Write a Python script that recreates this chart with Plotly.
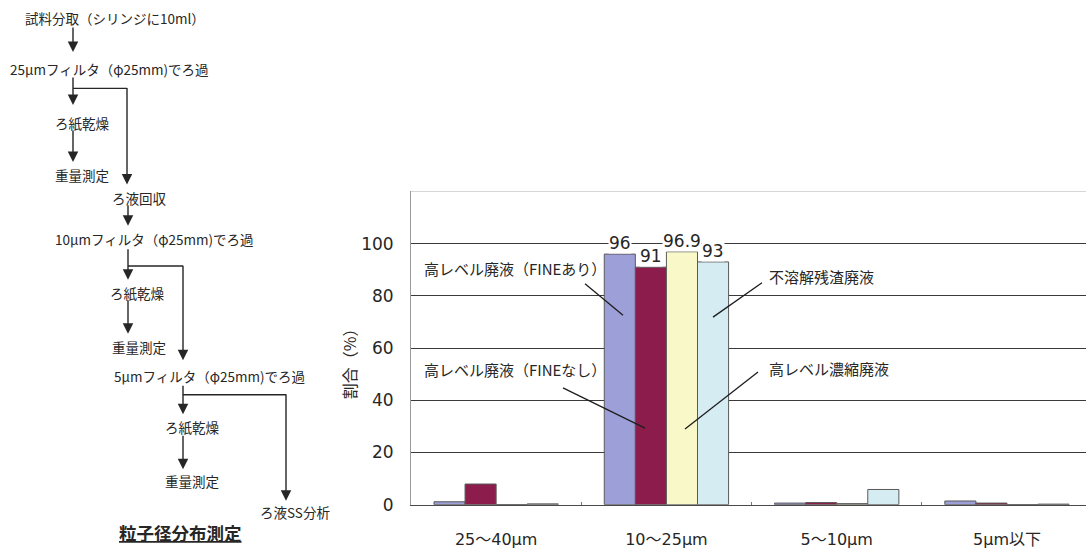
import plotly.graph_objects as go

# ---- chart data -------------------------------------------------------
categories = ["25〜40μm", "10〜25μm", "5〜10μm", "5μm以下"]
series_names = ["高レベル廃液（FINEあり）", "高レベル廃液（FINEなし）",
                "高レベル濃縮廃液", "不溶解残渣廃液"]
hlw_fine_on = [1.1, 96, 0.6, 1.4]
hlw_fine_off = [7.9, 91, 0.8, 0.6]
hlw_concentrate = [0.0, 96.9, 0.4, 0.0]
insoluble_residue = [0.3, 93, 5.8, 0.2]
labelled_category = 1          # values printed above the bars of this group
y_ticks = [0, 20, 40, 60, 80, 100]

# ---- flow chart text ---------------------------------------------------
flow_steps = ["試料分取（シリンジに10ml）", "25μmフィルタ（φ25mm)でろ過", "ろ紙乾燥", "重量測定",
              "ろ液回収", "10μmフィルタ（φ25mm)でろ過", "ろ紙乾燥", "重量測定",
              "5μmフィルタ（φ25mm)でろ過", "ろ紙乾燥", "重量測定", "ろ液SS分析"]
flow_title = "粒子径分布測定"

W, H = 1086, 549
CJK = "Noto Sans CJK JP"
NUM = "DejaVu Sans, Noto Sans CJK JP"
INK = "#262626"


def px(x):
    return x / W


def py(y):
    return 1 - y / H


series = [hlw_fine_on, hlw_fine_off, hlw_concentrate, insoluble_residue]
colors = ["#9d9fd8", "#8c1c4b", "#f8f8c9", "#d6ecf3"]
bargap = 0.27

fig = go.Figure()
for name, vals, col in zip(series_names, series, colors):
    fig.add_trace(go.Bar(x=categories, y=vals, name=name, marker_color=col,
                         marker_line_color="#5a5a5a", marker_line_width=1))

# value labels above the labelled group
bar_w = (1 - bargap) / len(series)
annotations = []
for i, vals in enumerate(series):
    v = vals[labelled_category]
    off = (i - (len(series) - 1) / 2) * bar_w
    txt = f"{v:g}"
    annotations.append(dict(x=labelled_category + off, y=v, xref="x", yref="y",
                            text=txt, showarrow=False, yanchor="bottom", yshift=0,
                            bgcolor="white", borderpad=0,
                            font=dict(family=NUM, size=17, color=INK)))

# callout labels for the series
callouts = [
    (series_names[0], 422, 273, (585, 289), (623, 321)),
    (series_names[1], 422, 376, (563, 395), (645, 436)),
    (series_names[3], 767, 282, (762, 288), (713, 323)),
    (series_names[2], 767, 375, (758, 379), (685, 437)),
]
shapes = []
for text, tx, ty, p0, p1 in callouts:
    annotations.append(dict(x=px(tx), y=py(ty), xref="paper", yref="paper", text=text,
                            showarrow=False, xanchor="left", yanchor="middle",
                            font=dict(family=CJK, size=15, color=INK)))
    shapes.append(dict(type="line", xref="paper", yref="paper",
                       x0=px(p0[0]), y0=py(p0[1]), x1=px(p1[0]), y1=py(p1[1]),
                       line=dict(color="#1e1e1e", width=1.3)))

# y axis title
annotations.append(dict(x=px(349), y=py(367), xref="paper", yref="paper", text="割合（%）",
                        textangle=-90, showarrow=False, xanchor="center", yanchor="middle",
                        font=dict(family=CJK, size=16, color=INK)))

# top frame of the plot area
shapes.append(dict(type="line", xref="paper", yref="y", x0=px(411), x1=1, y0=120, y1=120,
                   line=dict(color="#a8a8a8", width=1)))

# ---- flow chart --------------------------------------------------------
step_pos = [(23, 18), (8, 70), (53, 125), (53, 178), (110, 202), (53, 243),
            (108, 298), (110, 353), (112, 383), (163, 435), (163, 490), (258, 522)]
for text, (x, y) in zip(flow_steps, step_pos):
    annotations.append(dict(x=px(x), y=py(y), xref="paper", yref="paper", text=text,
                            showarrow=False, xanchor="left", yanchor="middle",
                            font=dict(family=CJK, size=13.5, color=INK)))
annotations.append(dict(x=px(180), y=py(542), xref="paper", yref="paper",
                        text=f"<b><u>{flow_title}</u></b>", showarrow=False,
                        xanchor="center", yanchor="middle",
                        font=dict(family=CJK, size=17.5, color=INK)))

arrows = [(73, 27, 53), (73, 78, 107), (127, 90, 188), (73, 132, 165),
          (128, 208, 230), (128, 253, 285), (183, 271, 367), (128, 305, 340),
          (183, 392, 422), (286, 402, 510), (183, 443, 478)]
for x, y0, y1 in arrows:
    annotations.append(dict(x=px(x), y=py(y1), xref="paper", yref="paper", text="",
                            showarrow=True, ax=0, ay=y0 - y1, axref="pixel", ayref="pixel",
                            arrowhead=2, arrowsize=1.5, arrowwidth=1.4, arrowcolor=INK))
branches = [(73, 127, 90), (128, 183, 271), (183, 286, 402)]
for x0, x1, y in branches:
    shapes.append(dict(type="line", xref="paper", yref="paper",
                       x0=px(x0), x1=px(x1), y0=py(y), y1=py(y),
                       line=dict(color=INK, width=1.4)))

fig.update_layout(
    width=W, height=H, margin=dict(l=0, r=0, t=0, b=0),
    paper_bgcolor="white", plot_bgcolor="white", showlegend=False,
    barmode="group", bargap=bargap, bargroupgap=0,
    annotations=annotations, shapes=shapes,
    xaxis=dict(domain=[px(411), 1], range=[-0.5, 3.464], showline=True,
               linecolor="#4a4a4a", linewidth=1, ticks="inside", tickson="boundaries",
               ticklen=3, tickcolor="#777", ticklabelstandoff=20,
               tickfont=dict(family=NUM, size=16, color=INK)),
    yaxis=dict(domain=[1 - 514 / H, 1 - 195 / H], range=[0, 120], tickvals=y_ticks,
               showgrid=True, gridcolor="#3a3a3a", gridwidth=1, zeroline=False,
               showline=True, linecolor="#9a9a9a", linewidth=1, ticks="",
               ticklabelstandoff=13, tickfont=dict(family=NUM, size=17, color=INK)),
)

fig.write_html("out.html")
